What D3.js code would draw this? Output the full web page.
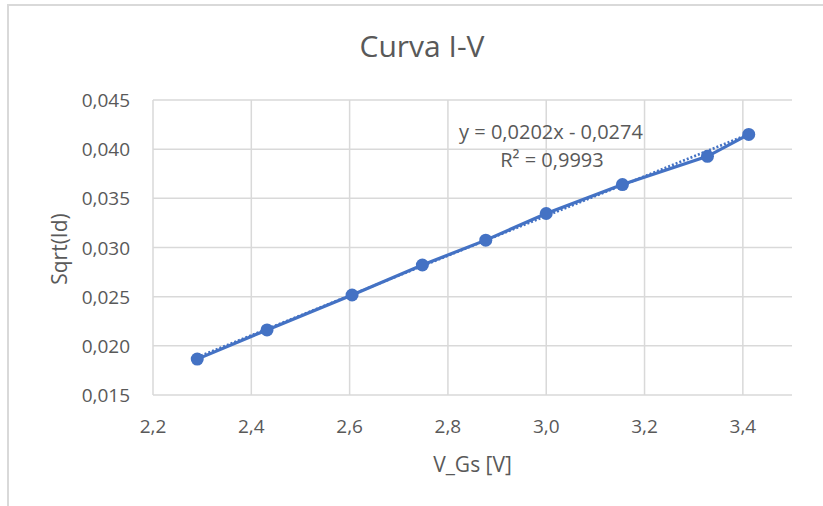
<!DOCTYPE html>
<meta charset="utf-8">
<script src="https://d3js.org/d3.v7.min.js"></script>
<style>
body { margin: 0; background: #fff; }
text { font-family: "Open Sans", sans-serif; fill: #595959; }
.grid line { stroke: #d9d9d9; stroke-width: 1.5px; }
</style>
<body>
<script>

// measured points
var vgs = [2.29, 2.432, 2.605, 2.748, 2.877, 3.0, 3.155, 3.328, 3.412];
var sqrtId = [0.01865, 0.02162, 0.02517, 0.02822, 0.03075, 0.03346, 0.0364, 0.03927, 0.0415];
var xTicks = [2.2, 2.4, 2.6, 2.8, 3.0, 3.2, 3.4];
var yTicks = [0.015, 0.020, 0.025, 0.030, 0.035, 0.040, 0.045];
// linear trend from the chart label
var slope = 0.0202, intercept = -0.0274;

var width = 823, height = 506;
var margin = {top: 100, right: 31, bottom: 111, left: 153};

var svg = d3.select("body").append("svg")
    .attr("width", width)
    .attr("height", height);

// chart frame
svg.append("rect")
    .attr("x", 8).attr("y", 5)
    .attr("width", width + 20).attr("height", height + 20)
    .attr("fill", "none")
    .attr("stroke", "#d9d9d9")
    .attr("stroke-width", 2);

var x = d3.scaleLinear().domain([2.2, 3.5]).range([margin.left, width - margin.right]);
var y = d3.scaleLinear().domain([0.015, 0.045]).range([height - margin.bottom, margin.top]);

var fmt = function(d, n) { return d3.format("." + n + "f")(d).replace(".", ","); };

// gridlines
var grid = svg.append("g").attr("class", "grid");
grid.selectAll(".h").data(yTicks).enter().append("line")
    .attr("x1", x(2.2)).attr("x2", x(3.5))
    .attr("y1", function(d) { return y(d); })
    .attr("y2", function(d) { return y(d); });
grid.selectAll(".v").data(xTicks).enter().append("line")
    .attr("y1", y(0.015)).attr("y2", y(0.045))
    .attr("x1", function(d) { return x(d); })
    .attr("x2", function(d) { return x(d); });

// tick labels
svg.append("g").selectAll("text").data(yTicks).enter().append("text")
    .attr("x", 130)
    .attr("y", function(d) { return y(d) + 7; })
    .attr("text-anchor", "end")
    .style("font-size", "19px")
    .text(function(d) { return fmt(d, 3); });

svg.append("g").selectAll("text").data(xTicks).enter().append("text")
    .attr("x", function(d) { return x(d); })
    .attr("y", 433)
    .attr("text-anchor", "middle")
    .style("font-size", "19px")
    .text(function(d) { return fmt(d, 1); });

// titles
svg.append("text")
    .attr("x", 422).attr("y", 57)
    .attr("text-anchor", "middle")
    .style("font-size", "30px")
    .text("Curva I-V");

svg.append("text")
    .attr("x", (x(2.2) + x(3.5)) / 2).attr("y", 472)
    .attr("text-anchor", "middle")
    .style("font-size", "21px")
    .text("V_Gs [V]");

svg.append("text")
    .attr("transform", "translate(67," + 249 + ") rotate(-90)")
    .attr("text-anchor", "middle")
    .style("font-size", "21px")
    .text("Sqrt(Id)");

var pts = vgs.map(function(v, i) { return [v, sqrtId[i]]; });

// trendline (dotted)
var xmin = d3.min(vgs), xmax = d3.max(vgs);
svg.append("line")
    .attr("x1", x(xmin)).attr("y1", y(slope * xmin + intercept))
    .attr("x2", x(xmax)).attr("y2", y(slope * xmax + intercept))
    .attr("stroke", "#4472c4")
    .attr("stroke-width", 2.5)
    .attr("stroke-dasharray", "2,2");

// data line
var line = d3.line()
    .x(function(d) { return x(d[0]); })
    .y(function(d) { return y(d[1]); });

svg.append("path")
    .datum(pts)
    .attr("d", line)
    .attr("fill", "none")
    .attr("stroke", "#4472c4")
    .attr("stroke-width", 3.2);

svg.append("g").selectAll("circle").data(pts).enter().append("circle")
    .attr("cx", function(d) { return x(d[0]); })
    .attr("cy", function(d) { return y(d[1]); })
    .attr("r", 6.5)
    .attr("fill", "#4472c4");

// trend label
svg.append("text")
    .attr("x", 551).attr("y", 139)
    .attr("text-anchor", "middle")
    .style("font-size", "20px")
    .text("y = " + fmt(slope, 4) + "x - " + fmt(-intercept, 4));
svg.append("text")
    .attr("x", 552).attr("y", 167)
    .attr("text-anchor", "middle")
    .style("font-size", "20px")
    .text("R² = 0,9993");

</script>
</body>
